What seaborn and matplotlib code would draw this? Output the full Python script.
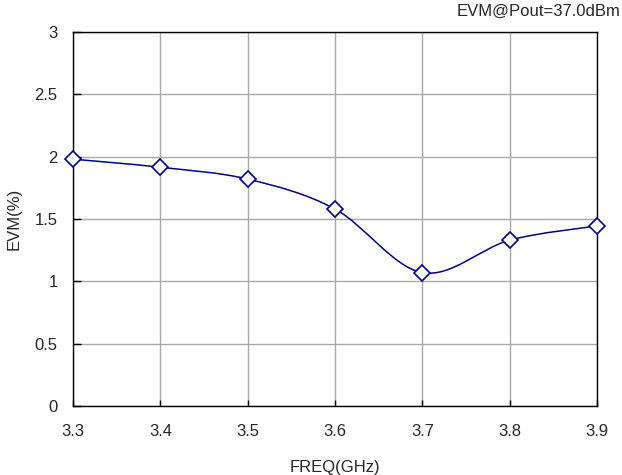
import numpy as np
import pandas as pd
import matplotlib
matplotlib.use("Agg")
import matplotlib.pyplot as plt
import seaborn as sns
from matplotlib.path import Path
from matplotlib.patches import PathPatch

freq = [3.3, 3.4, 3.5, 3.6, 3.7, 3.8, 3.9]
evm = [1.98, 1.915, 1.82, 1.58, 1.07, 1.33, 1.445]
xticks = [3.3, 3.4, 3.5, 3.6, 3.7, 3.8, 3.9]
yticks = [0, 0.5, 1, 1.5, 2, 2.5, 3]
ytick_labels = ["0", "0.5", "1", "1.5", "2", "2.5", "3"]
title = "EVM@Pout=37.0dBm"

sns.set_theme(style="white")
plt.rcParams['font.family'] = ['Liberation Sans', 'DejaVu Sans']

fig = plt.figure(figsize=(6.22, 4.75), dpi=100)
ax = fig.add_axes([73/622, 1-406/475, (597-73)/622, (406-32)/475])

df = pd.DataFrame({"freq": freq, "evm": evm})

# smoothed line (Excel-style Bezier through data points)
pts = np.column_stack([freq, evm])
verts = [tuple(pts[0])]
codes = [Path.MOVETO]
n = len(pts)
for i in range(n - 1):
    p0 = pts[i - 1] if i > 0 else pts[i]
    p1 = pts[i]
    p2 = pts[i + 1]
    p3 = pts[i + 2] if i + 2 < n else pts[i + 1]
    c1 = p1 + (p2 - p0) / 6.0
    c2 = p2 - (p3 - p1) / 6.0
    verts += [tuple(c1), tuple(c2), tuple(p2)]
    codes += [Path.CURVE4] * 3
ax.add_patch(PathPatch(Path(verts, codes), facecolor='none', edgecolor='#000080', lw=1.1, zorder=3))

sns.lineplot(data=df, x="freq", y="evm", ax=ax, linestyle='none', marker='D',
             markersize=8, markerfacecolor='white', markeredgecolor='#000080',
             markeredgewidth=1.2, zorder=4, clip_on=False)

ax.set_xlim(3.3, 3.9)
ax.set_ylim(0, 3)
ax.set_xticks(xticks)
ax.set_xticklabels([f"{v:.1f}" for v in xticks])
ax.set_yticks(yticks)
ax.set_yticklabels(ytick_labels)
ax.grid(True, color='#a8a8a8', lw=1)
ax.set_axisbelow(True)
for s in ax.spines.values():
    s.set_color('black')
    s.set_linewidth(1)
ax.tick_params(axis='y', direction='in', length=6, width=1, color='black', labelsize=12, pad=11)
ax.tick_params(axis='x', direction='in', length=4, width=1, color='black', labelsize=12, pad=13)
ax.tick_params(left=True, bottom=True)
ax.set_xlabel("FREQ(GHz)", fontsize=12, labelpad=15)
ax.set_ylabel("EVM(%)", fontsize=12, labelpad=9)
fig.text(620/622, 1-11/475, title, ha='right', va='center', fontsize=12)

fig.savefig("out.png", dpi=100)
